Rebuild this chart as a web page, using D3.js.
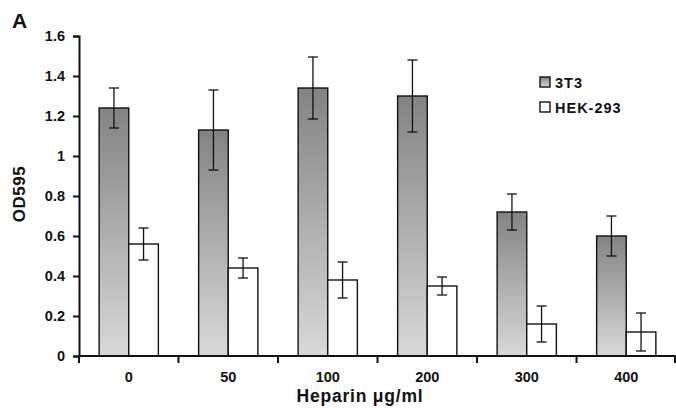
<!DOCTYPE html>
<html>
<head>
<meta charset="utf-8">
<script src="https://cdn.jsdelivr.net/npm/d3@7"></script>
<style>
  body { margin: 0; background: #fff; }
  text { font-family: "Liberation Sans", Arial, sans-serif; font-weight: bold; fill: #111; }
</style>
</head>
<body>
<div id="chart"></div>
<script>
// values
var doses = ["0", "50", "100", "200", "300", "400"];
var series = ["3T3", "HEK-293"];
var mean3T3 = [1.24, 1.13, 1.34, 1.30, 0.72, 0.60];
var err3T3 = [0.10, 0.20, 0.155, 0.18, 0.09, 0.10];
var meanHEK = [0.56, 0.44, 0.38, 0.35, 0.16, 0.12];
var errHEK = [0.08, 0.05, 0.09, 0.045, 0.09, 0.095];
var yTicks = [0, 0.2, 0.4, 0.6, 0.8, 1, 1.2, 1.4, 1.6];

var width = 676, height = 408;
var margin = { top: 36, right: 0, bottom: 52, left: 79 };

var svg = d3.select("#chart").append("svg")
  .attr("width", width)
  .attr("height", height);

var defs = svg.append("defs");
var grad = defs.append("linearGradient")
  .attr("id", "grad3t3")
  .attr("x1", 0).attr("y1", 0).attr("x2", 0).attr("y2", 1);
grad.append("stop").attr("offset", "0%").attr("stop-color", "#838383");
grad.append("stop").attr("offset", "100%").attr("stop-color", "#d8d8d8");

var x = d3.scaleBand()
  .domain(doses)
  .range([margin.left, width - margin.right])
  .paddingInner(0)
  .paddingOuter(0);

var inner = d3.scaleBand()
  .domain(series)
  .range([0, x.bandwidth()])
  .paddingOuter(0.68)
  .paddingInner(0);

var y = d3.scaleLinear()
  .domain([0, 1.6])
  .range([height - margin.bottom, margin.top]);

var rows = [];
doses.forEach(function (d, i) {
  rows.push({ dose: d, s: "3T3", v: mean3T3[i], e: err3T3[i] });
  rows.push({ dose: d, s: "HEK-293", v: meanHEK[i], e: errHEK[i] });
});

// bars
svg.append("g").selectAll("rect")
  .data(rows)
  .join("rect")
  .attr("x", function (d) { return x(d.dose) + inner(d.s); })
  .attr("y", function (d) { return y(d.v); })
  .attr("width", inner.bandwidth())
  .attr("height", function (d) { return y(0) - y(d.v); })
  .attr("fill", function (d) { return d.s === "3T3" ? "url(#grad3t3)" : "#fff"; })
  .attr("stroke", "#111")
  .attr("stroke-width", 1.4);

// error bars
var eg = svg.append("g").attr("stroke", "#111").attr("stroke-width", 1.3);
rows.forEach(function (d) {
  var cx = x(d.dose) + inner(d.s) + inner.bandwidth() / 2;
  eg.append("line")
    .attr("x1", cx).attr("x2", cx)
    .attr("y1", y(d.v + d.e)).attr("y2", y(d.v - d.e));
  [d.v + d.e, d.v - d.e].forEach(function (val) {
    eg.append("line")
      .attr("x1", cx - 5).attr("x2", cx + 5)
      .attr("y1", y(val)).attr("y2", y(val));
  });
});

// y axis
var yAxis = svg.append("g")
  .attr("transform", "translate(" + margin.left + ",0)")
  .call(d3.axisLeft(y).tickValues(yTicks).tickSize(6).tickPadding(8)
    .tickFormat(function (d) { return d === 1 ? "1" : d3.format("")(Math.round(d * 10) / 10); }));
yAxis.select(".domain").attr("stroke", "#111").attr("stroke-width", 2);
yAxis.selectAll(".tick line").attr("stroke", "#111").attr("stroke-width", 2);
yAxis.selectAll(".tick text").style("font-size", "14.5px").style("font-weight", "bold").attr("fill", "#111");
yAxis.attr("font-family", null);

// x axis with ticks between groups
var xAxis = svg.append("g")
  .attr("transform", "translate(0," + y(0) + ")");
xAxis.append("line")
  .attr("x1", margin.left).attr("x2", width - margin.right)
  .attr("stroke", "#111").attr("stroke-width", 2);
var bounds = doses.map(function (d) { return x(d) + x.bandwidth(); });
bounds.unshift(margin.left);
xAxis.selectAll("line.tk")
  .data(bounds)
  .join("line")
  .attr("class", "tk")
  .attr("x1", function (d) { return Math.min(d, width - 1); })
  .attr("x2", function (d) { return Math.min(d, width - 1); })
  .attr("y1", 0).attr("y2", 7)
  .attr("stroke", "#111").attr("stroke-width", 2);
xAxis.selectAll("text")
  .data(doses)
  .join("text")
  .attr("x", function (d) { return x(d) + x.bandwidth() / 2; })
  .attr("y", 26)
  .attr("text-anchor", "middle")
  .style("font-size", "14.5px")
  .text(function (d) { return d; });

// axis titles
svg.append("text")
  .attr("x", 360).attr("y", 402)
  .attr("text-anchor", "middle")
  .style("font-size", "17.5px")
  .style("letter-spacing", "0.8px")
  .text("Heparin \u03bcg/ml");

svg.append("text")
  .attr("transform", "translate(25," + ((margin.top + y(0)) / 2 - 2) + ") rotate(-90)")
  .attr("text-anchor", "middle")
  .style("font-size", "17px")
  .style("letter-spacing", "0.5px")
  .text("OD595");

svg.append("text")
  .attr("x", 12).attr("y", 28)
  .style("font-size", "21px")
  .text("A");

// legend
var legend = svg.append("g").attr("transform", "translate(540,77)");
series.forEach(function (s, i) {
  var g = legend.append("g").attr("transform", "translate(0," + (i * 25) + ")");
  g.append("rect")
    .attr("width", 10).attr("height", 10)
    .attr("fill", s === "3T3" ? "url(#grad3t3)" : "#fff")
    .attr("stroke", "#111").attr("stroke-width", 1.4);
  g.append("text")
    .attr("x", 15).attr("y", 10.5)
    .style("font-size", "14.5px")
    .style("letter-spacing", "1px")
    .text(s);
});
</script>
</body>
</html>
